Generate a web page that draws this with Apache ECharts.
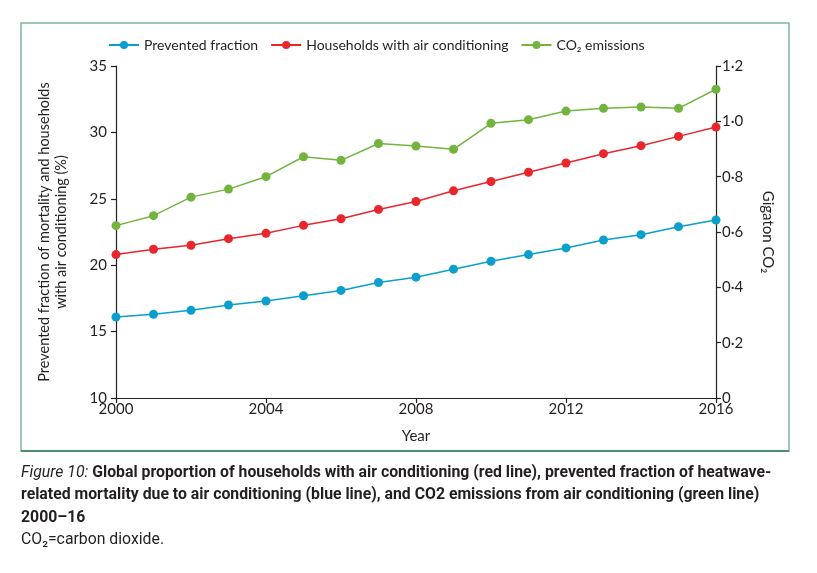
<!DOCTYPE html>
<html><head><meta charset="utf-8">
<script src="https://cdn.jsdelivr.net/npm/echarts@6/dist/echarts.min.js"></script>
<style>html,body{margin:0;padding:0;background:#fff}#c{width:817px;height:573px}</style>
</head><body><div id="c"></div>
<script>
const years = [2000,2001,2002,2003,2004,2005,2006,2007,2008,2009,2010,2011,2012,2013,2014,2015,2016];
const preventedFraction = [16.1,16.3,16.6,17.0,17.3,17.7,18.1,18.7,19.1,19.7,20.3,20.8,21.3,21.9,22.3,22.9,23.4];
const householdsAC = [20.8,21.2,21.5,22.0,22.4,23.0,23.5,24.2,24.8,25.6,26.3,27.0,27.7,28.4,29.0,29.7,30.4];
const co2Emissions = [0.623,0.659,0.726,0.755,0.800,0.872,0.859,0.920,0.911,0.899,0.993,1.006,1.037,1.047,1.052,1.047,1.116];
const seriesNames = ['Prevented fraction','Households with air conditioning','CO\u2082 emissions'];
const captionLines = [
  ['Figure 10:', ' Global proportion of households with air conditioning (red line), prevented fraction of heatwave-'],
  ['', 'related mortality due to air conditioning (blue line), and CO2 emissions from air conditioning (green line)'],
  ['', '2000\u201316']
];
const footnote = 'CO\u2082=carbon dioxide.';

const chart = echarts.init(document.getElementById('c'));
const font = 'Lato, "Open Sans", sans-serif';
const capFont = '"Liberation Sans Narrow", "Roboto", sans-serif';
const txt = '#231f20';
const pair = a => years.map((y,i)=>[y,a[i]]);
const axisCommon = {
  axisLine:{show:true,lineStyle:{color:'#231f20',width:1.2}},
  axisTick:{show:true,length:5,lineStyle:{color:'#231f20',width:1.2}},
  splitLine:{show:false},
  axisLabel:{color:txt,fontFamily:font,fontSize:15},
  nameTextStyle:{color:txt,fontFamily:font,fontSize:15}
};
const graphics = [
  {type:'rect',shape:{x:21,y:23,width:768,height:428},style:{fill:'none',stroke:'#7db79a',lineWidth:1.5},silent:true},
  {type:'line',shape:{x1:21,y1:451,x2:789,y2:451},style:{stroke:'#2f7d57',lineWidth:1.5},silent:true}
];
captionLines.forEach((l,i)=>{
  graphics.push({type:'text',left:21,top:465+i*22.5,style:{
    text:(l[0]?'{i|'+l[0]+'}':'')+'{b|'+l[1]+'}',
    rich:{i:{fontFamily:capFont,fontStyle:'italic',fontSize:15.8,fill:txt},
          b:{fontFamily:capFont,fontWeight:'bold',fontSize:15.8,fill:txt}}}});
});
graphics.push({type:'text',left:21,top:532,style:{text:footnote,fontFamily:capFont,fontSize:15.8,fill:txt}});

chart.setOption({
  animation:false,
  color:['#0b9fcc','#e8262b','#72b43e'],
  legend:{top:33,left:103,itemGap:12,itemWidth:30,itemHeight:10,
    textStyle:{color:txt,fontFamily:font,fontSize:14},data:seriesNames},
  grid:{left:116,right:101,top:66,bottom:175},
  xAxis:Object.assign({},axisCommon,{type:'value',min:2000,max:2016,interval:4,
    name:'Year',nameLocation:'middle',nameGap:31,
    axisLabel:Object.assign({},axisCommon.axisLabel,{margin:4,formatter:v=>String(v)})}),
  yAxis:[
    Object.assign({},axisCommon,{type:'value',min:10,max:35,interval:5,position:'left',
      name:'Prevented fraction of mortality and households\nwith air conditioning (%)',
      nameLocation:'middle',nameGap:46,nameRotate:90,nameTruncate:{maxWidth:null},
      nameTextStyle:Object.assign({},axisCommon.nameTextStyle,{fontSize:14.5,lineHeight:17,width:500,overflow:'none'}),
      axisLabel:Object.assign({},axisCommon.axisLabel,{margin:9})}),
    Object.assign({},axisCommon,{type:'value',min:0,max:1.2,interval:0.2,position:'right',
      name:'Gigaton CO\u2082',nameLocation:'middle',nameGap:44,nameRotate:-90,
      axisLabel:Object.assign({},axisCommon.axisLabel,{margin:6,
        formatter:v=>v===0?'0':v.toFixed(1).replace('.','\u00b7')})})
  ],
  series:[
    {name:seriesNames[0],type:'line',yAxisIndex:0,data:pair(preventedFraction),symbol:'circle',symbolSize:9,lineStyle:{width:1.5}},
    {name:seriesNames[1],type:'line',yAxisIndex:0,data:pair(householdsAC),symbol:'circle',symbolSize:9,lineStyle:{width:1.5}},
    {name:seriesNames[2],type:'line',yAxisIndex:1,data:pair(co2Emissions),symbol:'circle',symbolSize:9,lineStyle:{width:1.5}}
  ],
  graphic:graphics
});
</script></body></html>
